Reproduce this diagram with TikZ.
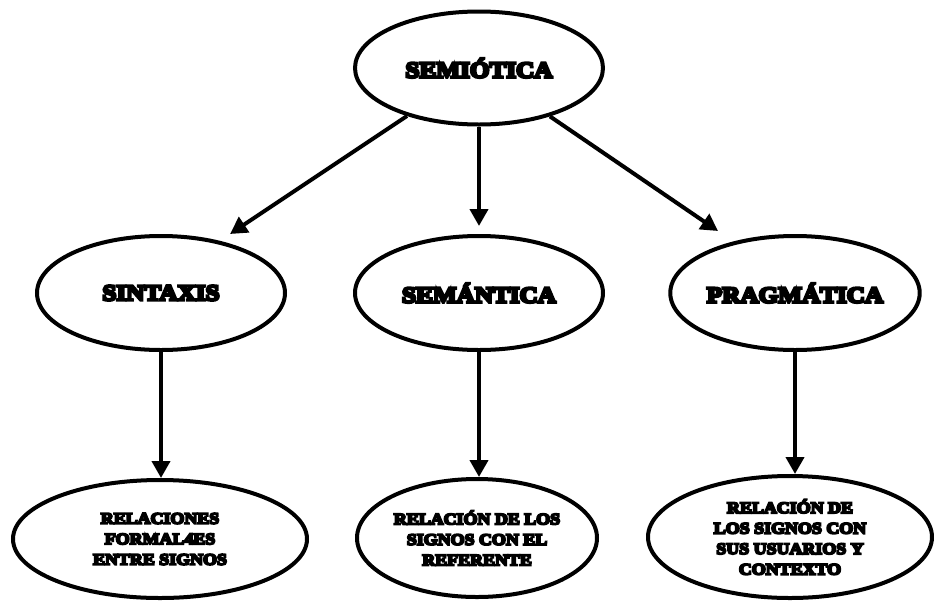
\documentclass[tikz,border=0pt]{standalone}
\usepackage{fontspec}
\usetikzlibrary{shapes.geometric,arrows.meta}
\newfontfamily\fatface{Liberation Serif}[UprightFont=* Bold, FakeBold=12, FakeStretch=1.12]

\tikzset{
  oval/.style={ellipse, draw=black, line width=4pt, fill=white, inner sep=0pt,
               align=center, text=black},
  bigtext/.style={font=\fatface\fontsize{22.5}{26}\selectfont},
  smalltext/.style={font=\fatface\fontsize{16}{20.5}\selectfont},
  link/.style={line width=4pt, -{Triangle[length=17pt,width=18pt]}},
}

\begin{document}
\begin{tikzpicture}[x=1pt,y=-1pt]
  \useasboundingbox (0,0) rectangle (934,600);

  % root concept
  \node[oval, bigtext, minimum width=248pt, minimum height=113pt] (semi) at (479,68) {SEMIÓTICA};

  % the three branches
  \node[oval, bigtext, minimum width=248pt, minimum height=114pt] (sin)  at (161,293) {SINTAXIS};
  \node[oval, bigtext, minimum width=248pt, minimum height=114pt] (sem)  at (479,293) {SEMÁNTICA};
  \node[oval, bigtext, minimum width=246pt, minimum height=114pt] (prag) at (795,293) {PRAGMÁTICA};

  % definitions
  \node[oval, smalltext, minimum width=294pt, minimum height=118pt] (rel1) at (160,539)
    {RELACIONES\\FORMAL4ES\\ENTRE SIGNOS};
  \node[oval, smalltext, minimum width=240pt, minimum height=118pt] (rel2) at (477,538)
    {RELACIÓN DE LOS\\SIGNOS CON EL\\REFERENTE};
  \node[oval, smalltext, minimum width=284pt, minimum height=122pt] (rel3) at (790,537)
    {RELACIÓN DE\\LOS SIGNOS CON\\SUS USUARIOS Y\\CONTEXTO};

  % arrow ends above the branch ovals
  \coordinate (tipL) at (230,234);
  \coordinate (tipR) at (718,231);

  \draw[link] (semi) -- (tipL);
  \draw[link] (semi) -- (tipR);
  \draw[link, shorten >=8pt] (semi.south) -- (sem.north);

  \draw[link] (sin.south)  -- (sin.south |- rel1.north);
  \draw[link] (sem.south)  -- (sem.south |- rel2.north);
  \draw[link] (prag.south) -- (prag.south |- rel3.north);
\end{tikzpicture}
\end{document}
